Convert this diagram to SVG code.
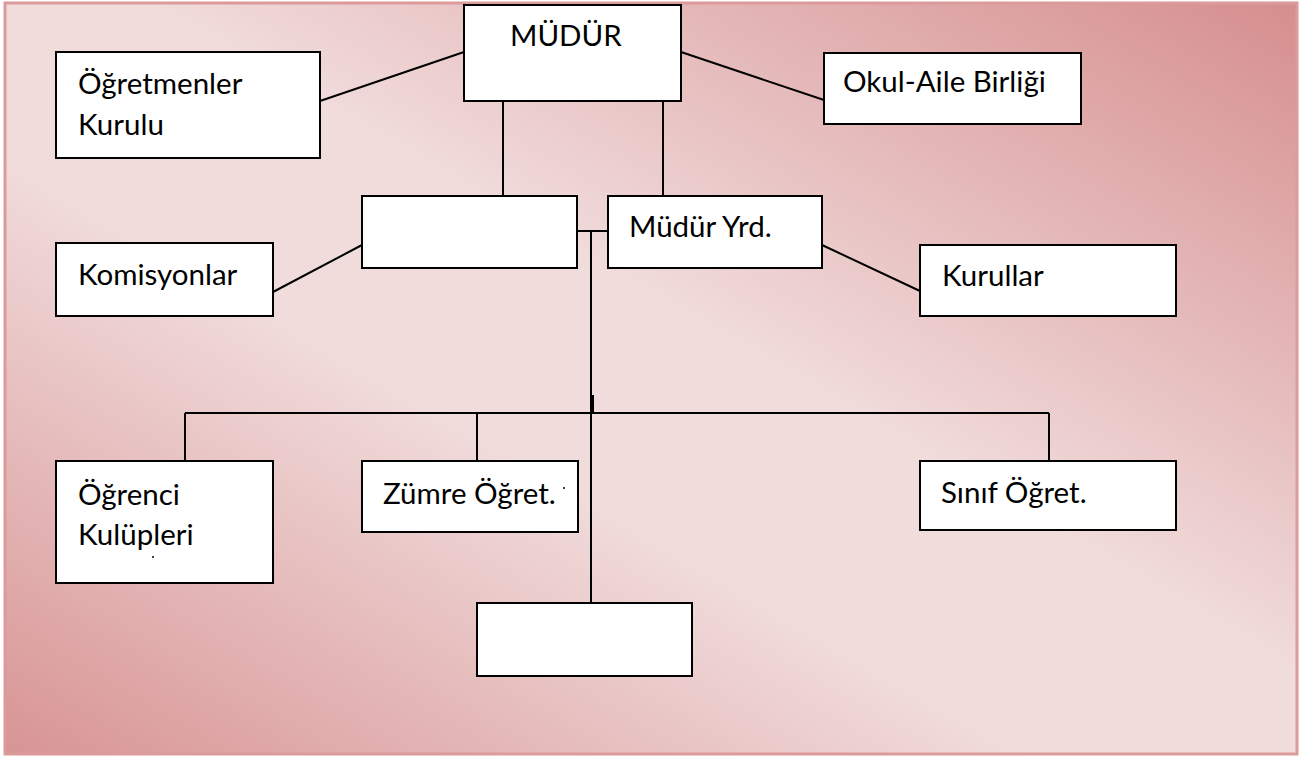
<svg xmlns="http://www.w3.org/2000/svg" width="1311" height="758" viewBox="0 0 1311 758">
<defs>
<linearGradient id="bg" x1="1" y1="0" x2="0" y2="1">
<stop offset="0" stop-color="#d68e8e"/>
<stop offset="0.45" stop-color="#f1dcdc"/>
<stop offset="0.6" stop-color="#f1dcdc"/>
<stop offset="1" stop-color="#d89494"/>
</linearGradient>
<style>
.box{fill:#fff;stroke:#000;stroke-width:2}
.t{font-family:Lato,"Liberation Sans",sans-serif;font-size:29.5px;fill:#000}
.c line{stroke:#000;stroke-width:2}
</style>
</defs>
<rect x="5" y="3" width="1292" height="751" fill="url(#bg)" stroke="#dc9a9a" stroke-width="3"/>
<g class="c" id="connectors">
<line x1="320" y1="101" x2="464" y2="52"/>
<line x1="681" y1="52" x2="824" y2="100"/>
<line x1="503" y1="101" x2="503" y2="196"/>
<line x1="663" y1="101" x2="663" y2="196"/>
<line x1="362" y1="245" x2="273" y2="292"/>
<line x1="822" y1="245" x2="920" y2="291"/>
<line x1="577" y1="231" x2="608" y2="231"/>
<line x1="591" y1="231" x2="591" y2="603"/>
<line x1="593" y1="395" x2="593" y2="413"/>
<line x1="185" y1="413" x2="1049" y2="413"/>
<line x1="185" y1="413" x2="185" y2="461"/>
<line x1="477" y1="413" x2="477" y2="461"/>
<line x1="1049" y1="413" x2="1049" y2="461"/>
</g>
<g id="mudur"><rect class="box" x="464" y="5" width="217" height="96"/><text class="t" x="510" y="46">MÜDÜR</text></g>
<g id="ogretmenler"><rect class="box" x="56" y="52" width="264" height="106"/><text class="t" x="78" y="94">Öğretmenler</text><text class="t" x="78" y="135">Kurulu</text></g>
<g id="okulaile"><rect class="box" x="824" y="53" width="257" height="71"/><text class="t" x="843" y="92">Okul-Aile Birliği</text></g>
<g id="empty1"><rect class="box" x="362" y="196" width="215" height="72"/></g>
<g id="mudurYrd"><rect class="box" x="608" y="196" width="214" height="72"/><text class="t" x="629" y="237">Müdür Yrd.</text></g>
<g id="komisyonlar"><rect class="box" x="56" y="243" width="217" height="73"/><text class="t" x="78" y="285">Komisyonlar</text></g>
<g id="kurullar"><rect class="box" x="920" y="245" width="256" height="71"/><text class="t" x="942" y="286">Kurullar</text></g>
<g id="ogrenci"><rect class="box" x="56" y="461" width="217" height="122"/><text class="t" x="78" y="505">Öğrenci</text><text class="t" x="78" y="545">Kulüpleri</text><circle cx="153" cy="557" r="1" fill="#000"/></g>
<g id="zumre"><rect class="box" x="362" y="461" width="216" height="71"/><text class="t" x="383" y="504">Zümre Öğret.</text><circle cx="564" cy="488" r="1" fill="#000"/></g>
<g id="sinif"><rect class="box" x="920" y="461" width="256" height="69"/><text class="t" x="941" y="503">Sınıf Öğret.</text></g>
<g id="empty2"><rect class="box" x="477" y="603" width="215" height="73"/></g>
</svg>
